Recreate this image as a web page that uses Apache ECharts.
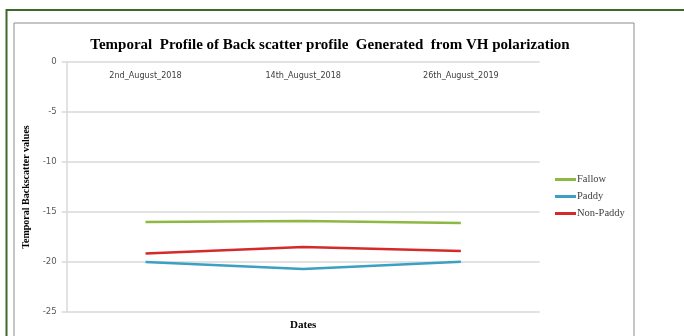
<!DOCTYPE html>
<html>
<head>
<meta charset="utf-8">
<script src="https://cdn.jsdelivr.net/npm/echarts@6/dist/echarts.min.js"></script>
<style>html,body{margin:0;padding:0;background:#fff}#c{width:684px;height:336px}</style>
</head>
<body>
<div id="c"></div>
<script>
var categories = ['2nd_August_2018', '14th_August_2018', '26th_August_2019'];
var fallow = [-16.0, -15.9, -16.1];
var paddy = [-20.0, -20.7, -19.98];
var nonPaddy = [-19.15, -18.5, -18.9];
var yTicks = { min: -25, max: 0, interval: 5 };

var chart = echarts.init(document.getElementById('c'));
var serif = 'Liberation Serif';
var sans = '"DejaVu Sans Condensed", "Liberation Sans", sans-serif';
chart.setOption({
  animation: false,
  backgroundColor: '#fff',
  graphic: [
    { type: 'rect', shape: { x: 14, y: 23, width: 620, height: 330 }, style: { fill: 'none', stroke: '#8c8c8c', lineWidth: 1 }, z: 0 },
    { type: 'rect', shape: { x: 6.5, y: 10, width: 690, height: 340 }, style: { fill: 'none', stroke: '#3b6a2a', lineWidth: 2 }, z: 0 }
  ],
  title: {
    text: 'Temporal  Profile of Back scatter profile  Generated  from VH polarization',
    left: 325, top: 33, textAlign: 'center',
    textStyle: { fontFamily: serif, fontWeight: 'bold', fontSize: 15, color: '#000' }
  },
  legend: {
    orient: 'vertical', left: 555, top: 174, itemWidth: 21, itemHeight: 3, itemGap: 6,
    padding: 0,
    icon: 'rect',
    textStyle: { fontFamily: serif, fontSize: 10.5, color: '#404040', padding: [0, 0, 0, -4] },
    data: ['Fallow', 'Paddy', 'Non-Paddy']
  },
  grid: { left: 66.7, right: 144.3, top: 62, bottom: 23.3 },
  xAxis: [
    {
      type: 'category', data: categories, position: 'top', boundaryGap: true,
      axisLine: { show: false }, axisTick: { show: false },
      axisLabel: { inside: true, margin: 9, fontFamily: sans, fontSize: 9, color: '#404040' }
    },
    {
      type: 'category', data: categories, position: 'bottom', boundaryGap: true,
      axisLine: { show: false }, axisTick: { show: false }, axisLabel: { show: false },
      name: 'Dates', nameLocation: 'middle', nameGap: 8,
      nameTextStyle: { fontFamily: serif, fontWeight: 'bold', fontSize: 11, color: '#000' }
    }
  ],
  yAxis: {
    type: 'value', min: yTicks.min, max: yTicks.max, interval: yTicks.interval,
    name: 'Temporal Backscatter values', nameLocation: 'middle', nameGap: 32, nameRotate: 90,
    nameTextStyle: { fontFamily: serif, fontWeight: 'bold', fontSize: 10, color: '#000' },
    axisLine: { show: true, lineStyle: { color: '#d9d9d9', width: 1.5 } },
    axisTick: { show: true, length: 5, lineStyle: { color: '#d9d9d9', width: 1.5 } },
    splitLine: { lineStyle: { color: '#d9d9d9', width: 1.5 } },
    axisLabel: { margin: 10, fontFamily: sans, fontSize: 9.5, color: '#595959' }
  },
  series: [
    { name: 'Fallow', type: 'line', data: fallow, showSymbol: false, symbol: 'none', lineStyle: { color: '#8db843', width: 2.5 }, itemStyle: { color: '#8db843' } },
    { name: 'Paddy', type: 'line', data: paddy, showSymbol: false, symbol: 'none', lineStyle: { color: '#3c9fc4', width: 2.5 }, itemStyle: { color: '#3c9fc4' } },
    { name: 'Non-Paddy', type: 'line', data: nonPaddy, showSymbol: false, symbol: 'none', lineStyle: { color: '#d42a2a', width: 2.5 }, itemStyle: { color: '#d42a2a' } }
  ]
});
</script>
</body>
</html>
